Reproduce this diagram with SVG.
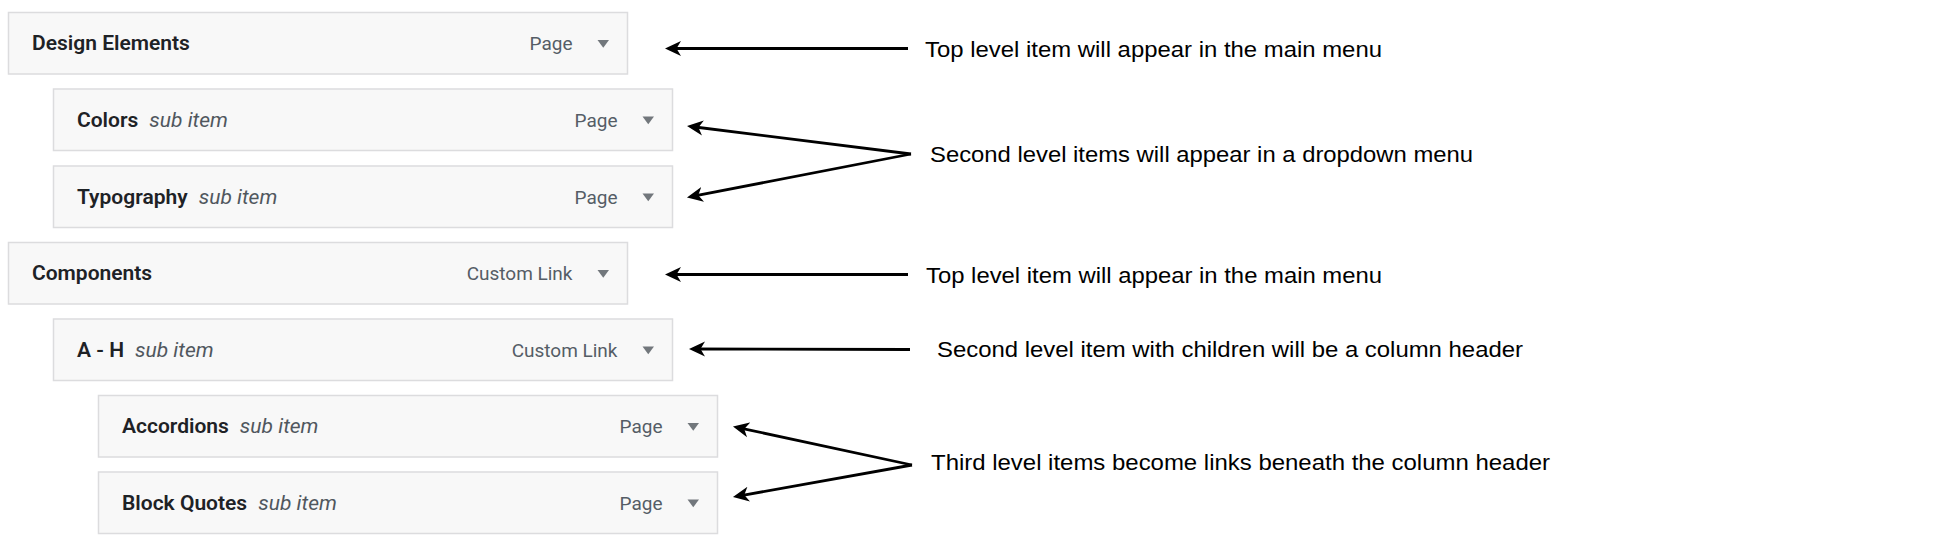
<svg xmlns="http://www.w3.org/2000/svg" width="1944" height="543" viewBox="0 0 1944 543">
<style>
.box{fill:#f8f8f8;stroke:#dcdcde;stroke-width:1.5}
.lbl{font-family:Roboto,"Noto Sans",sans-serif;font-size:21px;font-weight:600;fill:#1e2226}
.sub{font-family:Roboto,"Noto Sans",sans-serif;font-size:21px;font-style:italic;font-weight:400;fill:#50575e}
.typ{font-family:Roboto,"Noto Sans",sans-serif;font-size:19px;fill:#555d66;text-anchor:end}
.tri{fill:#72777c}
.note{font-family:"Liberation Sans",Arial,sans-serif;font-size:22px;fill:#000}
.arr{stroke:#000;stroke-width:2.8;fill:none;marker-end:url(#ah)}
</style>
<defs>
<marker id="ah" markerUnits="userSpaceOnUse" markerWidth="18" markerHeight="16" viewBox="0 -8 18 16" refX="12" refY="0" orient="auto">
<path d="M16,0 L0,-7.5 L4.5,0 L0,7.5 Z" fill="#000"/>
</marker>
</defs>
<rect width="1944" height="543" fill="#fff"/>

<g id="design-elements">
<rect class="box" x="8.5" y="12.5" width="619" height="61.5"/>
<text class="lbl" x="32" y="50">Design Elements</text>
<text class="typ" x="572.5" y="50">Page</text>
<path class="tri" d="M597.5,40 L609,40 L603.25,47.7 Z"/>
</g>

<g id="colors">
<rect class="box" x="53.5" y="89" width="619" height="61.5"/>
<text class="lbl" x="77" y="126.5">Colors<tspan class="sub" dx="11">sub item</tspan></text>
<text class="typ" x="617.5" y="126.5">Page</text>
<path class="tri" d="M642.5,116.5 L654,116.5 L648.25,124.2 Z"/>
</g>

<g id="typography">
<rect class="box" x="53.5" y="166" width="619" height="61.5"/>
<text class="lbl" x="77" y="203.5">Typography<tspan class="sub" dx="11">sub item</tspan></text>
<text class="typ" x="617.5" y="203.5">Page</text>
<path class="tri" d="M642.5,193.5 L654,193.5 L648.25,201.2 Z"/>
</g>

<g id="components">
<rect class="box" x="8.5" y="242.5" width="619" height="61.5"/>
<text class="lbl" x="32" y="280">Components</text>
<text class="typ" x="572.5" y="280">Custom Link</text>
<path class="tri" d="M597.5,270 L609,270 L603.25,277.7 Z"/>
</g>

<g id="a-h">
<rect class="box" x="53.5" y="319" width="619" height="61.5"/>
<text class="lbl" x="77" y="356.5">A - H<tspan class="sub" dx="11">sub item</tspan></text>
<text class="typ" x="617.5" y="356.5">Custom Link</text>
<path class="tri" d="M642.5,346.5 L654,346.5 L648.25,354.2 Z"/>
</g>

<g id="accordions">
<rect class="box" x="98.5" y="395.5" width="619" height="61.5"/>
<text class="lbl" x="122" y="433">Accordions<tspan class="sub" dx="11">sub item</tspan></text>
<text class="typ" x="662.5" y="433">Page</text>
<path class="tri" d="M687.5,423 L699,423 L693.25,430.7 Z"/>
</g>

<g id="block-quotes">
<rect class="box" x="98.5" y="472" width="619" height="61.5"/>
<text class="lbl" x="122" y="509.5">Block Quotes<tspan class="sub" dx="11">sub item</tspan></text>
<text class="typ" x="662.5" y="509.5">Page</text>
<path class="tri" d="M687.5,499.5 L699,499.5 L693.25,507.2 Z"/>
</g>

<g id="connectors">
<line class="arr" x1="908" y1="48.5" x2="669" y2="48.5"/>
<line class="arr" x1="911" y1="154" x2="691" y2="126.5"/>
<line class="arr" x1="911" y1="154" x2="690.9" y2="196.7"/>
<line class="arr" x1="908" y1="274.5" x2="669" y2="274.5"/>
<line class="arr" x1="910" y1="349.5" x2="693" y2="349"/>
<line class="arr" x1="912" y1="465" x2="736.9" y2="427.3"/>
<line class="arr" x1="912" y1="465" x2="736.9" y2="496.3"/>
</g>

<g id="notes">
<text class="note" x="925" y="57" textLength="457" lengthAdjust="spacingAndGlyphs">Top level item will appear in the main menu</text>
<text class="note" x="930" y="162" textLength="543" lengthAdjust="spacingAndGlyphs">Second level items will appear in a dropdown menu</text>
<text class="note" x="926" y="283" textLength="456" lengthAdjust="spacingAndGlyphs">Top level item will appear in the main menu</text>
<text class="note" x="937" y="357" textLength="586" lengthAdjust="spacingAndGlyphs">Second level item with children will be a column header</text>
<text class="note" x="931" y="470" textLength="619" lengthAdjust="spacingAndGlyphs">Third level items become links beneath the column header</text>
</g>
</svg>
